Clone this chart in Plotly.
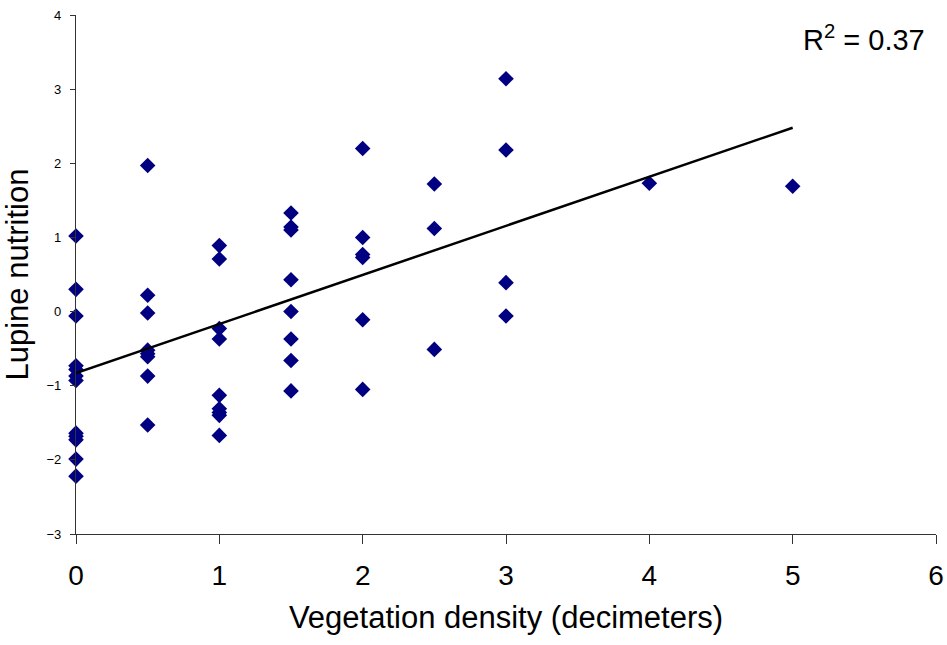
import plotly.graph_objects as go

# Data
veg_density = [0, 0, 0, 0, 0, 0, 0, 0, 0, 0, 0, 0,
               0.5, 0.5, 0.5, 0.5, 0.5, 0.5, 0.5, 0.5,
               1, 1, 1, 1, 1, 1, 1, 1, 1,
               1.5, 1.5, 1.5, 1.5, 1.5, 1.5, 1.5, 1.5,
               2, 2, 2, 2, 2, 2,
               2.5, 2.5, 2.5,
               3, 3, 3, 3,
               4, 5]
lupine_nutrition = [1.02, 0.30, -0.06, -0.73, -0.78, -0.87, -0.93, -1.64, -1.68, -1.73, -1.99, -2.22,
                    1.97, 0.22, -0.02, -0.52, -0.57, -0.61, -0.87, -1.53,
                    0.89, 0.71, -0.23, -0.37, -1.13, -1.31, -1.36, -1.40, -1.67,
                    1.33, 1.14, 1.10, 0.43, 0.0, -0.37, -0.66, -1.07,
                    2.20, 1.00, 0.77, 0.73, -0.11, -1.05,
                    1.72, 1.12, -0.51,
                    3.14, 2.18, 0.39, -0.06,
                    1.73, 1.69]

trend_x = [0, 5]
trend_y = [-0.83, 2.48]
r2_text = "R<sup>2</sup> = 0.37"

x_ticks = [0, 1, 2, 3, 4, 5, 6]
y_ticks = [-3, -2, -1, 0, 1, 2, 3, 4]

fig = go.Figure()
fig.add_trace(go.Scatter(
    x=veg_density, y=lupine_nutrition, mode="markers",
    marker=dict(symbol="diamond", size=12, color="#000080", line=dict(width=0)),
    cliponaxis=False, showlegend=False))
fig.add_trace(go.Scatter(
    x=trend_x, y=trend_y, mode="lines",
    line=dict(color="black", width=2.5), showlegend=False))

fig.update_layout(
    width=947, height=645,
    margin=dict(l=76, r=11, t=15, b=111),
    paper_bgcolor="white", plot_bgcolor="white",
    font=dict(family="Liberation Sans, Arial, sans-serif", color="black"),
    xaxis=dict(range=[0, 6], tickvals=x_ticks, showgrid=False, zeroline=False,
               automargin=False,
               showline=True, linecolor="#333", linewidth=1.2,
               ticks="outside", ticklen=9, tickcolor="#333",
               ticklabelstandoff=7,
               tickfont=dict(size=28),
               title=dict(text="Vegetation density (decimeters)", font=dict(size=31), standoff=16)),
    yaxis=dict(range=[-3, 4], tickvals=y_ticks, showgrid=False, zeroline=False,
               automargin=False,
               showline=True, linecolor="#333", linewidth=1.2,
               ticks="outside", ticklen=5, tickcolor="#333",
               ticklabelstandoff=6,
               tickfont=dict(size=13),
               title=dict(text="Lupine nutrition", font=dict(size=31), standoff=16)),
    annotations=[dict(text=r2_text, xref="paper", yref="paper", x=0.9895, y=0.955,
                      xanchor="right", yanchor="middle", showarrow=False,
                      font=dict(size=29))],
)

fig.write_html("out.html")
